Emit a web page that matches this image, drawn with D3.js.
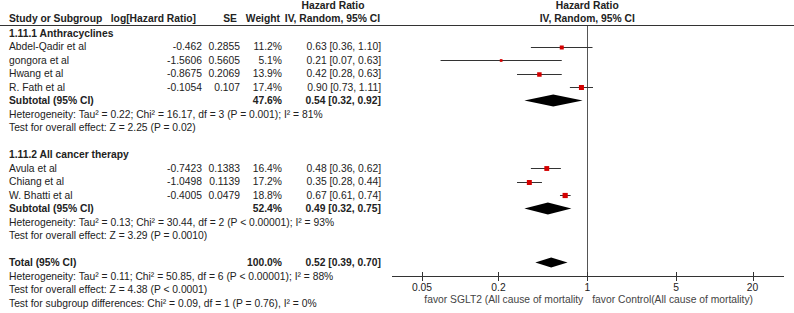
<!DOCTYPE html>
<html><head><meta charset="utf-8">
<script src="https://cdn.jsdelivr.net/npm/d3@7"></script>
<style>
html,body{margin:0;padding:0;background:#fff;}
svg text{font-family:"Liberation Sans",Arial,sans-serif;font-size:10.3px;fill:#222;}
.b{font-weight:bold;}
</style></head><body>
<svg id="c" width="794" height="313"></svg>
<script>
// ---- data ----
const studies = ["Abdel-Qadir et al","gongora et al","Hwang et al","R. Fath et al","Avula et al","Chiang et al","W. Bhatti et al"];
const groupOf = [0,0,0,0,1,1,1];
const logHR = ["-0.462","-1.5606","-0.8675","-0.1054","-0.7423","-1.0498","-0.4005"];
const seVals = ["0.2855","0.5605","0.2069","0.107","0.1383","0.1139","0.0479"];
const weights = [11.2,5.1,13.9,17.4,16.4,17.2,18.8];
const hr = [0.63,0.21,0.42,0.90,0.48,0.35,0.67];
const lo = [0.36,0.07,0.28,0.73,0.36,0.28,0.61];
const hi = [1.10,0.63,0.63,1.11,0.62,0.44,0.74];
const groups = ["1.11.1 Anthracyclines","1.11.2 All cancer therapy"];
const subWeight = [47.6,52.4];
const subHR = [0.54,0.49], subLo = [0.32,0.32], subHi = [0.92,0.75];
const subHet = ["Heterogeneity: Tau² = 0.22; Chi² = 16.17, df = 3 (P = 0.001); I² = 81%",
                "Heterogeneity: Tau² = 0.13; Chi² = 30.44, df = 2 (P < 0.00001); I² = 93%"];
const subZ = ["Test for overall effect: Z = 2.25 (P = 0.02)","Test for overall effect: Z = 3.29 (P = 0.0010)"];
const totHR = 0.52, totLo = 0.39, totHi = 0.70, totWeight = 100.0;
const totText = ["Heterogeneity: Tau² = 0.11; Chi² = 50.85, df = 6 (P < 0.00001); I² = 88%",
                 "Test for overall effect: Z = 4.38 (P < 0.0001)",
                 "Test for subgroup differences: Chi² = 0.09, df = 1 (P = 0.76), I² = 0%"];
const ticks = [0.05,0.2,1,5,20];
const tickLabels = ["0.05","0.2","1","5","20"];
const favorLeft = "favor SGLT2 (All cause of mortality";
const favorRight = "favor Control(All cause of mortality)";

// ---- layout ----
const svg = d3.select("#c");
const x = d3.scaleLog().domain([0.05,20]).range([422,752.5]);
const rowY = d3.scaleLinear().domain([0,1]).range([33,46.5]);
const axisY = 276;
const colName = 9, colLog = 202, colSE = 240, colW = 282, colCI = 381;

function txt(xp, yp, s, anchor, cls){
  return svg.append("text").attr("x",xp).attr("y",yp).attr("dy","0.36em")
    .attr("text-anchor",anchor||"start").attr("class",cls||null).text(s);
}
const f2 = d3.format(".2f");
const ciStr = (h,l,u)=>`${f2(h)} [${f2(l)}, ${f2(u)}]`;

// headers
txt(333,5,"Hazard Ratio","middle","b");
txt(colName,18,"Study or Subgroup","start","b");
txt(196,18,"log[Hazard Ratio]","end","b");
txt(237,18,"SE","end","b");
txt(280,18,"Weight","end","b");
txt(380,18,"IV, Random, 95% CI","end","b");
txt(x(1),5,"Hazard Ratio","middle","b");
txt(x(1),18,"IV, Random, 95% CI","middle","b");
svg.append("line").attr("x1",0).attr("x2",794).attr("y1",25.5).attr("y2",25.5).attr("stroke","#333").attr("stroke-width",1);

// vertical line at 1
svg.append("line").attr("x1",Math.round(x(1))+0.5).attr("x2",Math.round(x(1))+0.5)
  .attr("y1",26).attr("y2",axisY).attr("stroke","#555").attr("stroke-width",1);

function diamond(yc,h,l,u,ht){
  const p = [[x(l),yc],[x(h),yc-ht/2],[x(u),yc],[x(h),yc+ht/2]];
  svg.append("path").attr("d","M"+p.map(d=>d.join(",")).join("L")+"Z").attr("fill","#000");
}

let r = 0;
groups.forEach((g,gi)=>{
  txt(colName,rowY(r),g,"start","b"); r++;
  studies.forEach((s,i)=>{
    if(groupOf[i]!==gi) return;
    const y = rowY(r);
    txt(colName,y,s);
    txt(colLog,y,logHR[i],"end");
    txt(colSE,y,seVals[i],"end");
    txt(colW,y,weights[i].toFixed(1)+"%","end");
    txt(colCI,y,ciStr(hr[i],lo[i],hi[i]),"end");
    svg.append("line").attr("x1",x(lo[i])).attr("x2",x(hi[i])).attr("y1",Math.round(y)+0.5).attr("y2",Math.round(y)+0.5)
      .attr("stroke","#333").attr("stroke-width",1);
    const sz = 1.2*Math.sqrt(weights[i]);
    svg.append("rect").attr("x",x(hr[i])-sz/2).attr("y",Math.round(y)+0.5-sz/2).attr("width",sz).attr("height",sz).attr("fill","#d40000");
    r++;
  });
  const y = rowY(r);
  txt(colName,y,"Subtotal (95% CI)","start","b");
  txt(colW,y,subWeight[gi].toFixed(1)+"%","end","b");
  txt(colCI,y,ciStr(subHR[gi],subLo[gi],subHi[gi]),"end","b");
  diamond(y,subHR[gi],subLo[gi],subHi[gi],12);
  r++;
  txt(colName,rowY(r),subHet[gi]); r++;
  txt(colName,rowY(r),subZ[gi]); r++;
  r++;
});
{
  const y = rowY(r);
  txt(colName,y,"Total (95% CI)","start","b");
  txt(colW,y,totWeight.toFixed(1)+"%","end","b");
  txt(colCI,y,ciStr(totHR,totLo,totHi),"end","b");
  diamond(y,totHR,totLo,totHi,10);
  r++;
  totText.forEach(t=>{ txt(colName,rowY(r),t); r++; });
}

// axis
svg.append("line").attr("x1",392).attr("x2",784).attr("y1",axisY+0.5).attr("y2",axisY+0.5).attr("stroke","#333");
const axisG = svg.append("g");
ticks.forEach((t,i)=>{
  const xp = Math.round(x(t))+0.5;
  axisG.append("line").attr("x1",xp).attr("x2",xp).attr("y1",axisY-4).attr("y2",axisY+5).attr("stroke","#333");
  axisG.append("text").attr("x",x(t)).attr("y",axisY+11).attr("dy","0.36em").attr("text-anchor","middle").text(tickLabels[i]);
});
txt(x(1)-4,axisY+23,favorLeft,"end").style("fill","#444");
txt(x(1)+5,axisY+23,favorRight,"start").style("fill","#444");
</script>
</body></html>
